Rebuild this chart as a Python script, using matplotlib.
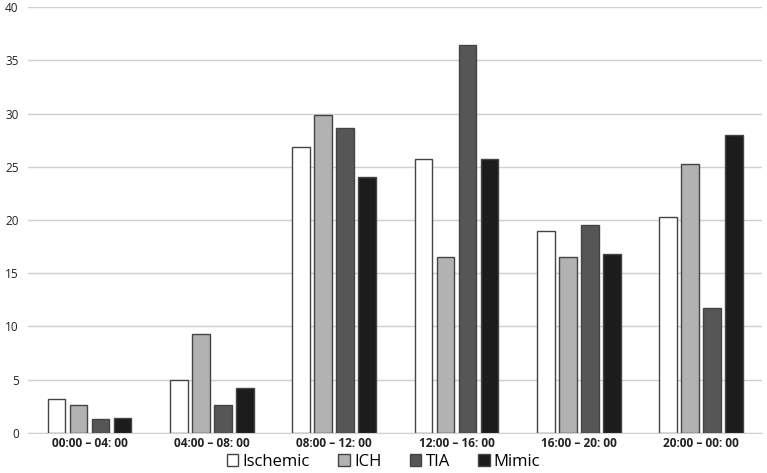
import numpy as np
import matplotlib
matplotlib.use('Agg')
import matplotlib.pyplot as plt

periods = ['00:00 \u2013 04: 00', '04:00 \u2013 08: 00', '08:00 \u2013 12: 00',
           '12:00 \u2013 16: 00', '16:00 \u2013 20: 00', '20:00 \u2013 00: 00']
ischemic = [3.2, 5.0, 26.9, 25.7, 19.0, 20.3]
ich = [2.6, 9.3, 29.9, 16.5, 16.5, 25.3]
tia = [1.3, 2.6, 28.6, 36.4, 19.5, 11.7]
mimic = [1.4, 4.2, 24.0, 25.7, 16.8, 28.0]

series = [('Ischemic', ischemic, '#ffffff'),
          ('ICH', ich, '#b2b2b2'),
          ('TIA', tia, '#565656'),
          ('Mimic', mimic, '#1c1c1c')]

plt.rcParams['font.family'] = ['Open Sans', 'DejaVu Sans']

fig = plt.figure(figsize=(7.67, 4.73), dpi=100)
ax = fig.add_axes([0.037, 0.085, 0.957, 0.9])

x = np.arange(len(periods))
width = 0.145
step = 0.18
for i, (name, vals, col) in enumerate(series):
    ax.bar(x + (i - 1.5) * step, vals, width, color=col, edgecolor='#444444',
           linewidth=1.0, label=name, zorder=3)

ax.set_xlim(-0.5, len(periods) - 0.5)
ax.set_ylim(0, 40)
ax.set_yticks(range(0, 41, 5))
ax.yaxis.grid(True, color='#d0d0d0', linewidth=1.0, zorder=0)
ax.set_axisbelow(True)
for s in ['top', 'right', 'left']:
    ax.spines[s].set_visible(False)
ax.spines['bottom'].set_color('#d0d0d0')
ax.tick_params(axis='both', length=0, colors='#222222')
ax.tick_params(axis='y', pad=7, labelsize=8.5)
ax.tick_params(axis='x', pad=3)
ax.set_xticks(x)
ax.set_xticklabels(periods, fontweight='bold', fontsize=8.6)

fig.legend(*ax.get_legend_handles_labels(), loc='center', bbox_to_anchor=(0.5, 0.023),
           ncol=4, frameon=False, fontsize=12, handlelength=0.7, handleheight=0.7,
           handletextpad=0.25, columnspacing=1.7, borderaxespad=0, borderpad=0)

fig.savefig('out.png', dpi=100)
